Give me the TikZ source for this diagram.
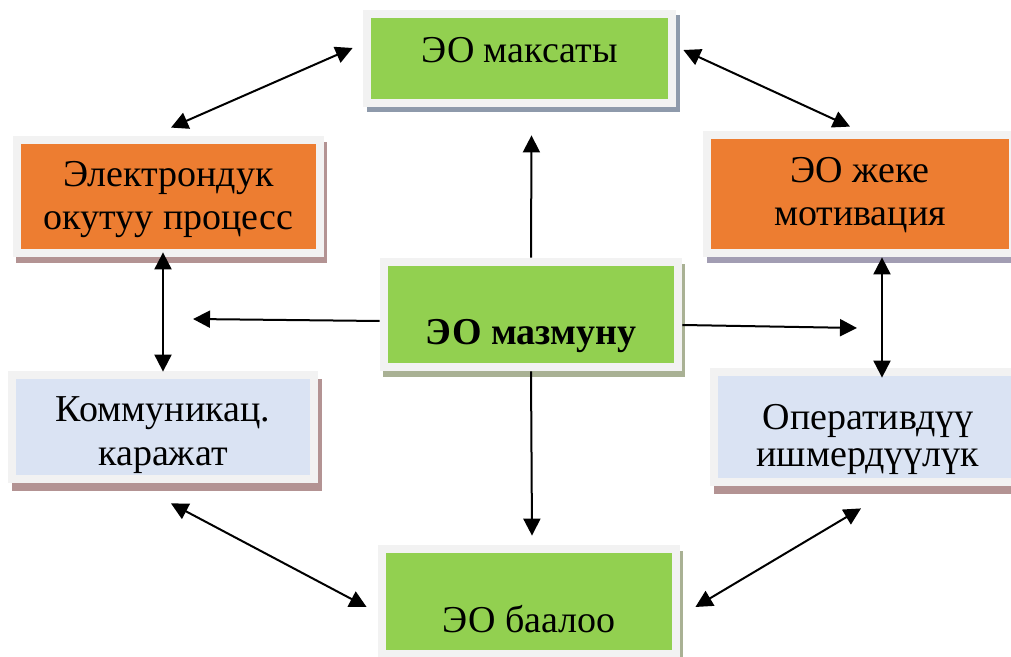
\documentclass[tikz,border=0pt]{standalone}
\usepackage{fontspec}
\setmainfont{Liberation Serif}
\usetikzlibrary{positioning, arrows.meta, shadows}

\definecolor{eogreen}{HTML}{92D050}
\definecolor{eoorange}{HTML}{ED7D31}
\definecolor{eoblue}{HTML}{DAE3F3}
\definecolor{eoframe}{HTML}{F2F2F2}
\definecolor{shblue}{HTML}{8E9AAB}
\definecolor{shrose}{HTML}{B39393}
\definecolor{sholive}{HTML}{A9B194}
\definecolor{shlilac}{HTML}{A29DB3}

\newcommand{\onetext}[2]{\raisebox{#1}[0pt][0pt]{#2}}
\newcommand{\twotext}[4][0pt]{\raisebox{#2}[0pt][0pt]{\begin{tabular}[b]{@{}c@{}}#3\\[#1]#4\end{tabular}}}

\tikzset{
  eobox/.style={fill=eoframe, inner sep=0pt, font=\fontsize{19}{21.5}\selectfont},
  inside/.style={path picture={\fill[#1] ([shift={(4pt,-4pt)}]path picture bounding box.north west) rectangle ([shift={(-4pt,4pt)}]path picture bounding box.south east);}},
  back/.style n args={3}{drop shadow={shadow xshift=#2, shadow yshift=#3, fill=#1, opacity=1}},
  link/.style={line width=1pt, {Triangle[length=8.5pt,width=8.5pt]}-{Triangle[length=8.5pt,width=8.5pt]}},
  onelink/.style={line width=1pt, -{Triangle[length=8.5pt,width=8.5pt]}}
}

\begin{document}
\begin{tikzpicture}[x=0.5pt, y=-0.5pt]
\useasboundingbox (0,0) rectangle (1011,657);
% boxes
\node (maksat) at (519.5,58.5) [eobox, back={shblue}{2pt}{-2.5pt}, inside=eogreen, minimum width=156.5pt, minimum height=48.5pt] {\onetext{-2.25pt}{ЭО максаты}};
\node (protsess) at (168.5,196.5) [eobox, back={shrose}{1.5pt}{-3pt}, inside=eoorange, minimum width=155.5pt, minimum height=60.5pt] {\twotext{-16.75pt}{Электрондук}{окутуу процесс}};
\node (kommunik) at (163,427) [eobox, back={shrose}{2pt}{-4pt}, inside=eoblue, minimum width=155pt, minimum height=56pt] {\twotext{-19pt}{Коммуникац.}{каражат}};
\node (mazmun) at (531,314.5) [eobox, back={sholive}{1.5pt}{-3pt}, inside=eogreen, minimum width=151pt, minimum height=56.5pt] {\onetext{-15.25pt}{\bfseries ЭО мазмуну}};
\node (motiv) at (860,194) [eobox, back={shlilac}{2pt}{-3pt}, inside=eoorange, minimum width=157pt, minimum height=63pt] {\twotext{-16pt}{ЭО жеке}{мотивация}};
\node (operativ) at (868,427) [eobox, back={shrose}{2pt}{-4pt}, inside=eoblue, minimum width=158pt, minimum height=59pt] {\twotext[-3.5pt]{-19.5pt}{Оперативдүү}{ишмердүүлүк}};
\node (baalo) at (529,601.5) [eobox, back={sholive}{1.5pt}{-3pt}, inside=eogreen, minimum width=151pt, minimum height=56.5pt] {\onetext{-15.25pt}{ЭО баалоо}};
% free ends
\coordinate (leftend) at (193,319);
\coordinate (rightend) at (857,328);
% connectors
\draw[link] ([shift={(-10,-10.5)}]maksat.west) -- ([shift={(2.5,-8)}]protsess.north);
\draw[link] ([shift={(7,-8.5)}]maksat.east) -- ([shift={(-10,-4)}]motiv.north);
\draw[onelink] (mazmun.north) -- ([shift={(12,28)}]maksat.south);
\draw[onelink] (mazmun.south) -- ([shift={(3,-9)}]baalo.north);
\draw[onelink] ([shift={(0,6.5)}]mazmun.west) -- (leftend);
\draw[onelink] ([shift={(0,10.5)}]mazmun.east) -- (rightend);
\draw[link] ([shift={(-5.5,-5)}]protsess.south) -- ([shift={(0,1)}]kommunik.north);
\draw[link] ([shift={(22,0)}]motiv.south) -- ([shift={(14,10)}]operativ.north);
\draw[link] ([shift={(8,20)}]kommunik.south) -- ([shift={(-11,5.5)}]baalo.west);
\draw[link] ([shift={(-7,22)}]operativ.south) -- ([shift={(15,5.5)}]baalo.east);
\end{tikzpicture}
\end{document}
